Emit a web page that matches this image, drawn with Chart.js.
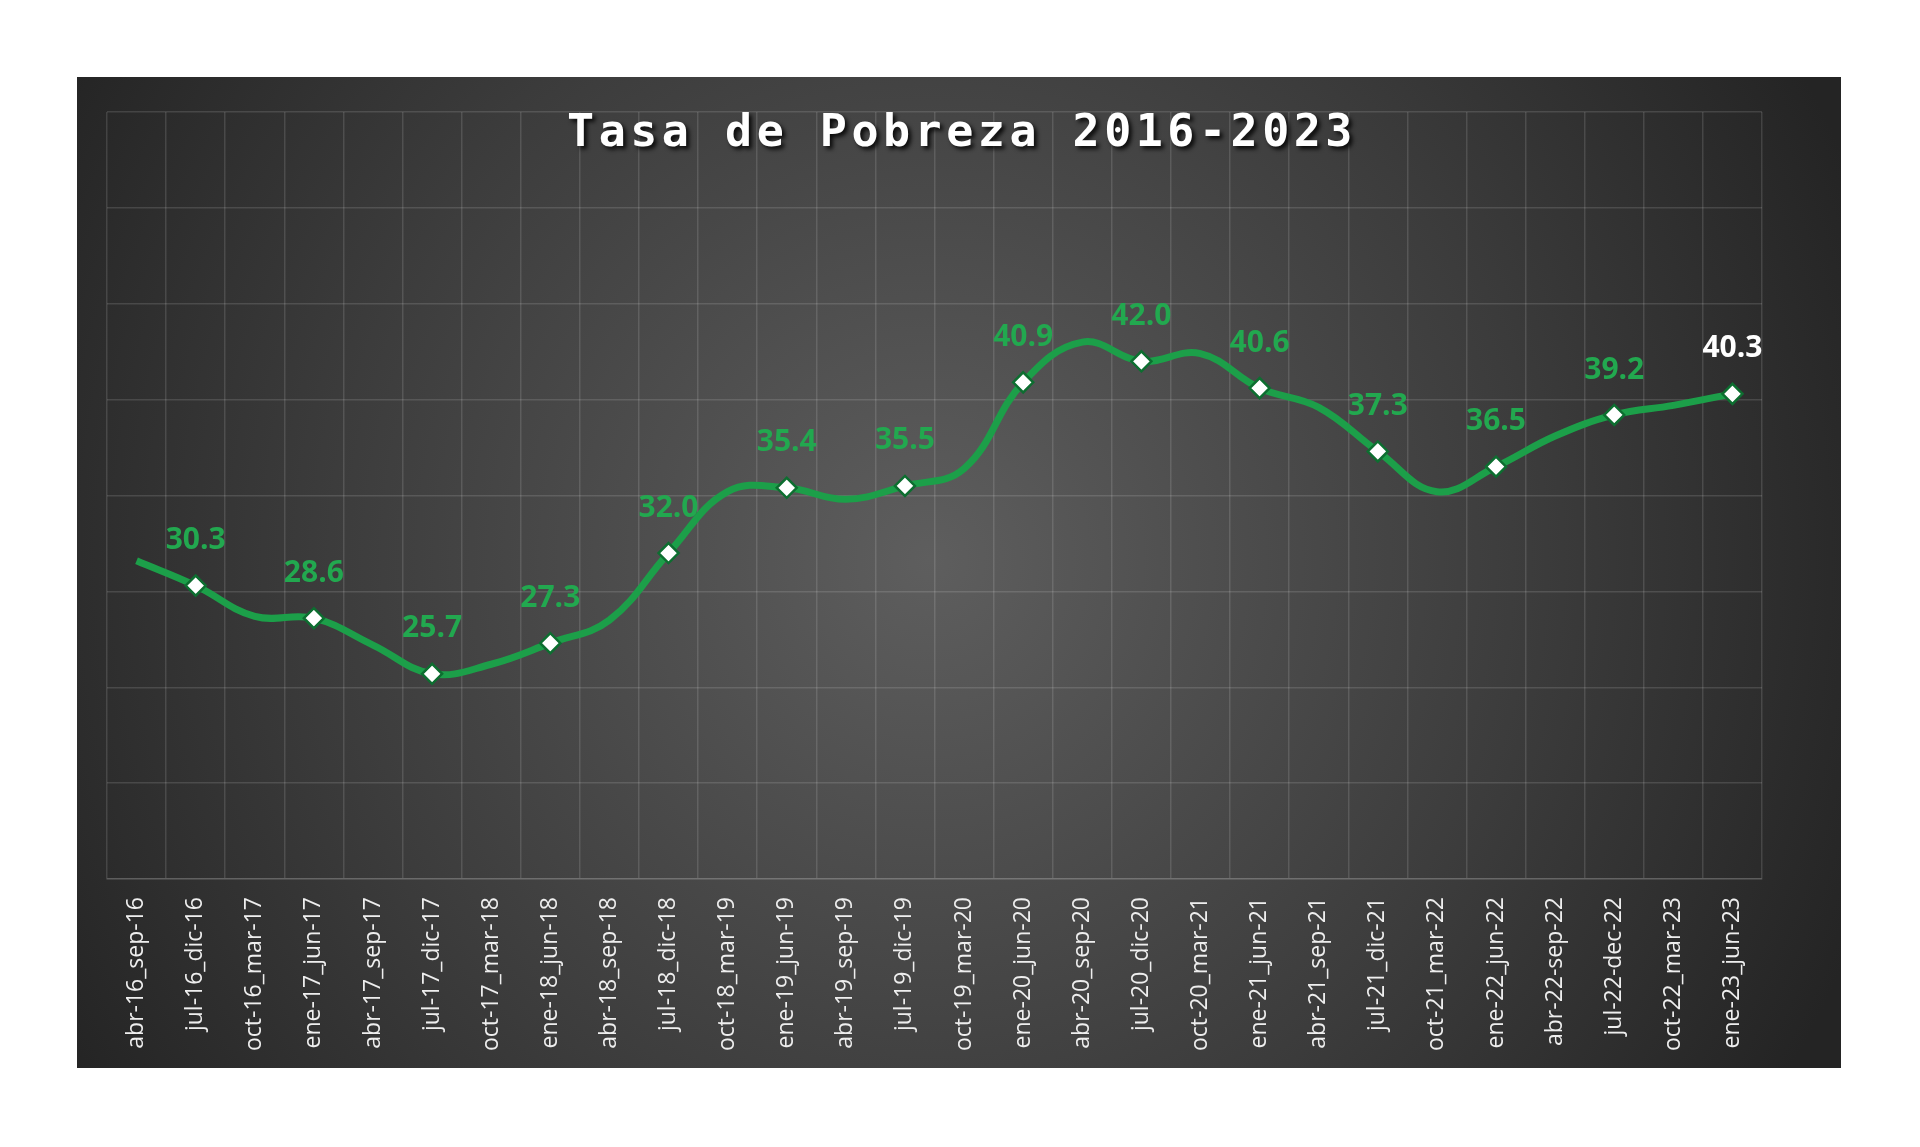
<!DOCTYPE html>
<html>
<head>
<meta charset="utf-8">
<script src="https://cdn.jsdelivr.net/npm/chart.js@4.4.1/dist/chart.umd.min.js"></script>
<style>
  html, body { margin: 0; padding: 0; background: #ffffff; }
  canvas { display: block; }
</style>
</head>
<body>
<canvas id="pobrezaChart" width="1920" height="1147"></canvas>
<script>
// periodos (semestres moviles)
const periodos = [
    "abr-16_sep-16", "jul-16_dic-16", "oct-16_mar-17", "ene-17_jun-17",
    "abr-17_sep-17", "jul-17_dic-17", "oct-17_mar-18", "ene-18_jun-18",
    "abr-18_sep-18", "jul-18_dic-18", "oct-18_mar-19", "ene-19_jun-19",
    "abr-19_sep-19", "jul-19_dic-19", "oct-19_mar-20", "ene-20_jun-20",
    "abr-20_sep-20", "jul-20_dic-20", "oct-20_mar-21", "ene-21_jun-21",
    "abr-21_sep-21", "jul-21_dic-21", "oct-21_mar-22", "ene-22_jun-22",
    "abr-22-sep-22", "jul-22-dec-22", "oct-22_mar-23", "ene-23_jun-23"
];

// tasa de pobreza (%)
const tasa = [
    31.6, 30.3, 28.7, 28.6, 27.2, 25.7, 26.2, 27.3,
    28.5, 32.0, 35.2, 35.4, 34.8, 35.5, 36.4, 40.9,
    43.0, 42.0, 42.4, 40.6, 39.6, 37.3, 35.2, 36.5,
    38.1, 39.2, 39.7, 40.3
];

// solo los semestres (jul-dic / ene-jun) llevan marcador y etiqueta
const conEtiqueta = periodos.map((p, i) => i % 2 === 1);

const yMin = 15;
const yMax = 55;
const yStep = 5;

const verde = '#1c9f49';

const fondoPanel = {
    id: 'fondoPanel',
    beforeDraw(chart) {
        const ctx = chart.ctx;
        ctx.save();
        ctx.fillStyle = '#ffffff';
        ctx.fillRect(0, 0, chart.width, chart.height);
        const g = ctx.createRadialGradient(930, 560, 0, 930, 560, 1000);
        g.addColorStop(0, '#5e5e5e');
        g.addColorStop(0.6, '#3c3c3c');
        g.addColorStop(1, '#242424');
        ctx.fillStyle = g;
        ctx.fillRect(77, 77, 1764, 991);
        ctx.restore();
    }
};

const tituloYEtiquetas = {
    id: 'tituloYEtiquetas',
    afterDatasetsDraw(chart) {
        const ctx = chart.ctx;
        ctx.save();
        // titulo
        ctx.font = 'bold 45px "DejaVu Sans Mono"';
        ctx.letterSpacing = '4.5px';
        ctx.textAlign = 'center';
        ctx.textBaseline = 'middle';
        ctx.shadowColor = 'rgba(0,0,0,0.85)';
        ctx.shadowOffsetX = 3;
        ctx.shadowOffsetY = 3;
        ctx.shadowBlur = 4;
        ctx.fillStyle = '#ffffff';
        ctx.fillText('Tasa de Pobreza 2016-2023', 962, 134);
        ctx.restore();

        // etiquetas de datos
        ctx.save();
        ctx.textAlign = 'center';
        ctx.textBaseline = 'middle';
        const meta = chart.getDatasetMeta(0);
        meta.data.forEach((pt, i) => {
            if (!conEtiqueta[i]) return;
            const last = i === tasa.length - 1;
            ctx.fillStyle = last ? '#ffffff' : '#22a84f';
            ctx.font = 'bold 30px "Open Sans"';
            ctx.fillText(tasa[i].toFixed(1), pt.x, pt.y - 45);
        });
        ctx.restore();
    }
};

new Chart(document.getElementById('pobrezaChart'), {
    type: 'line',
    data: {
        labels: periodos,
        datasets: [{
            data: tasa,
            borderColor: verde,
            borderWidth: 7,
            tension: 0.4,
            pointStyle: 'rectRot',
            pointRadius: conEtiqueta.map(m => m ? 10 : 0),
            pointHoverRadius: 0,
            pointBackgroundColor: '#ffffff',
            pointBorderColor: '#0d6e30',
            pointBorderWidth: 2.5
        }]
    },
    options: {
        responsive: false,
        animation: false,
        devicePixelRatio: 1,
        layout: {
            padding: { left: 107, right: 158, top: 112, bottom: 0 }
        },
        plugins: {
            legend: { display: false },
            title: { display: false },
            tooltip: { enabled: false }
        },
        scales: {
            x: {
                offset: true,
                grid: {
                    offset: true,
                    color: 'rgba(255,255,255,0.13)',
                    lineWidth: 1.5,
                    drawTicks: false
                },
                border: { color: 'rgba(255,255,255,0.13)', width: 1.5 },
                ticks: {
                    color: '#eeeeee',
                    font: { family: '"Open Sans"', size: 23 },
                    minRotation: 90,
                    maxRotation: 90,
                    autoSkip: false,
                    padding: 18
                },
                afterFit(scale) { scale.height = 268; }
            },
            y: {
                min: yMin,
                max: yMax,
                ticks: { display: false, stepSize: yStep },
                grid: {
                    color: 'rgba(255,255,255,0.13)',
                    lineWidth: 1.5,
                    drawTicks: false
                },
                border: { display: false },
                afterFit(scale) { scale.width = 0; }
            }
        }
    },
    plugins: [fondoPanel, tituloYEtiquetas]
});
</script>
</body>
</html>
